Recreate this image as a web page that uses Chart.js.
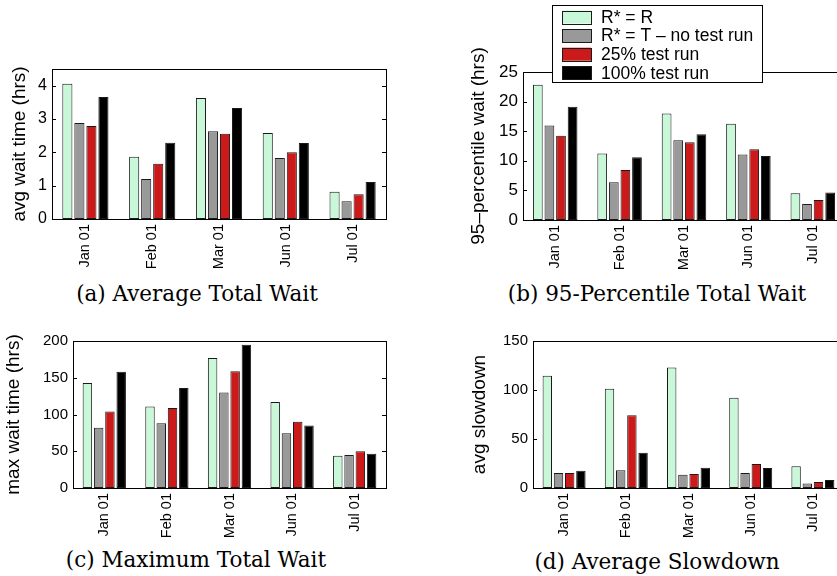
<!DOCTYPE html>
<html>
<head>
<meta charset="utf-8">
<title>Wait time comparison</title>
<script src="https://cdn.jsdelivr.net/npm/chart.js@4.4.1/dist/chart.umd.min.js"></script>
<style>
    html, body { margin: 0; padding: 0; background: #fff; width: 837px; height: 576px; overflow: hidden; }
    canvas { position: absolute; }
    .caption {
        position: absolute;
        font-family: "DejaVu Serif", serif;
        font-size: 21.5px;
        line-height: 24px;
        color: #000;
        white-space: nowrap;
        transform: translateX(-50%);
    }
</style>
</head>
<body>
<canvas id="chartA" width="390" height="280" style="left:0;top:0"></canvas>
<canvas id="chartB" width="405" height="280" style="left:440px;top:0"></canvas>
<canvas id="chartC" width="390" height="230" style="left:0;top:310px"></canvas>
<canvas id="chartD" width="404" height="230" style="left:440px;top:310px"></canvas>
<div class="caption" style="left:197px;top:282px">(a) Average Total Wait</div>
<div class="caption" style="left:657px;top:282px">(b) 95-Percentile Total Wait</div>
<div class="caption" style="left:196px;top:548px">(c) Maximum Total Wait</div>
<div class="caption" style="left:657px;top:550px">(d) Average Slowdown</div>
<script>
// categories and series names
const months = ['Jan 01', 'Feb 01', 'Mar 01', 'Jun 01', 'Jul 01'];
const seriesLabels = ['R* = R', 'R* = T \u2013 no test run', '25% test run', '100% test run'];

// (a) average wait time (hrs)
const avgWaitRR = [4.06, 1.87, 3.63, 2.58, 0.82];
const avgWaitRT = [2.88, 1.20, 2.63, 1.83, 0.53];
const avgWait25 = [2.79, 1.66, 2.56, 2.00, 0.74];
const avgWait100 = [3.66, 2.29, 3.33, 2.28, 1.11];

// (b) 95-percentile wait (hrs)
const p95WaitRR = [22.85, 11.23, 18.0, 16.25, 4.51];
const p95WaitRT = [15.97, 6.38, 13.49, 11.06, 2.71];
const p95Wait25 = [14.22, 8.46, 13.15, 11.96, 3.39];
const p95Wait100 = [19.13, 10.61, 14.5, 10.83, 4.63];

// (c) max wait time (hrs)
const maxWaitRR = [143, 111, 177, 117, 44];
const maxWaitRT = [82, 88, 130, 74.5, 45];
const maxWait25 = [104, 109, 159, 90, 50];
const maxWait100 = [158, 136, 195, 85, 46.5];

// (d) avg slowdown
const slowdownRR = [114.5, 101.3, 122.9, 92.1, 22.3];
const slowdownRT = [15.2, 18, 13.5, 15.2, 4.7];
const slowdown25 = [15.2, 74.2, 14.2, 24.4, 6.1];
const slowdown100 = [17.6, 35.9, 20.7, 20.3, 8.1];

const barColors = ['#c8f8d8', '#999999', '#cc1a1a', '#000000'];
const barEdge = '#1a1a1a';

Chart.defaults.font.family = '"Liberation Sans", Arial, sans-serif';
Chart.defaults.color = '#000';

// box around the plot area with inward ticks (matlab style)
const frameBox = {
    id: 'frameBox',
    afterDatasetsDraw(chart) {
        const ctx = chart.ctx;
        const a = chart.chartArea;
        const y = chart.scales.y;
        ctx.save();
        ctx.strokeStyle = '#000';
        ctx.lineWidth = 1;
        ctx.strokeRect(a.left + 0.5, a.top + 0.5, a.right - a.left, a.bottom - a.top);
        ctx.beginPath();
        y.ticks.forEach(t => {
            const py = Math.round(y.getPixelForValue(t.value)) + 0.5;
            ctx.moveTo(a.left, py);
            ctx.lineTo(a.left + 4, py);
            ctx.moveTo(a.right - 4, py);
            ctx.lineTo(a.right, py);
        });
        ctx.stroke();
        ctx.restore();
    }
};

// boxed legend drawn over the top edge of plot (b)
const legendBox = {
    id: 'legendBox',
    afterDraw(chart) {
        const ctx = chart.ctx;
        ctx.save();
        ctx.fillStyle = '#fff';
        ctx.fillRect(112, 5, 210, 77);
        ctx.strokeStyle = '#000';
        ctx.lineWidth = 1;
        ctx.strokeRect(112.5, 5.5, 210, 77);
        ctx.font = '17.5px "Liberation Sans", Arial, sans-serif';
        ctx.textBaseline = 'middle';
        chart.data.datasets.forEach((ds, i) => {
            const rowY = 17 + i * 18.6;
            ctx.fillStyle = ds.backgroundColor;
            ctx.fillRect(122, rowY - 6.5, 29, 13);
            ctx.strokeStyle = barEdge;
            ctx.strokeRect(122.5, Math.round(rowY - 6.5) + 0.5, 29, 13);
            ctx.fillStyle = '#000';
            ctx.fillText(ds.label, 161, rowY + 1);
        });
        ctx.restore();
    }
};

function makeBarChart(canvasId, cfg) {
    return new Chart(document.getElementById(canvasId), {
        type: 'bar',
        data: {
            labels: months,
            datasets: cfg.series.map((values, i) => ({
                label: seriesLabels[i],
                data: values,
                backgroundColor: barColors[i],
                borderColor: barEdge,
                borderWidth: 1,
                borderSkipped: false,
                categoryPercentage: 0.72,
                barPercentage: 0.84
            }))
        },
        options: {
            responsive: false,
            animation: false,
            layout: { padding: { top: cfg.padTop, right: cfg.padRight, left: 0, bottom: 0 } },
            plugins: {
                legend: { display: false },
                tooltip: { enabled: false }
            },
            scales: {
                x: {
                    grid: { display: false, drawTicks: false },
                    border: { display: false },
                    ticks: {
                        autoSkip: false,
                        minRotation: 90,
                        maxRotation: 90,
                        padding: 5,
                        font: { size: 14.5 }
                    },
                    afterFit: s => { s.height = cfg.xHeight; }
                },
                y: {
                    min: 0,
                    max: cfg.yMax,
                    grid: { display: false, drawTicks: false },
                    border: { display: false },
                    ticks: {
                        stepSize: cfg.yStep,
                        includeBounds: false,
                        padding: 5,
                        font: { size: cfg.tickSize }
                    },
                    title: {
                        display: true,
                        text: cfg.yTitle,
                        font: { size: 19 },
                        padding: { top: cfg.titlePad, bottom: 0 }
                    },
                    afterFit: s => { s.width = cfg.yWidth; }
                }
            }
        },
        plugins: cfg.legend ? [frameBox, legendBox] : [frameBox]
    });
}

makeBarChart('chartA', {
    series: [avgWaitRR, avgWaitRT, avgWait25, avgWait100],
    yMax: 4.5, yStep: 1, yTitle: 'avg wait time (hrs)',
    padTop: 69, padRight: 4, yWidth: 52, xHeight: 61, titlePad: 8.6, tickSize: 16
});

makeBarChart('chartB', {
    series: [p95WaitRR, p95WaitRT, p95Wait25, p95Wait100],
    yMax: 25, yStep: 5, yTitle: '95\u2013percentile wait (hrs)',
    padTop: 72, padRight: 0, yWidth: 83, xHeight: 60, titlePad: 27.6, tickSize: 17,
    legend: true
});

makeBarChart('chartC', {
    series: [maxWaitRR, maxWaitRT, maxWait25, maxWait100],
    yMax: 200, yStep: 50, yTitle: 'max wait time (hrs)',
    padTop: 31, padRight: 4, yWidth: 73, xHeight: 52, titlePad: 2.6, tickSize: 15
});

makeBarChart('chartD', {
    series: [slowdownRR, slowdownRT, slowdown25, slowdown100],
    yMax: 150, yStep: 50, yTitle: 'avg slowdown',
    padTop: 31, padRight: 0, yWidth: 93, xHeight: 52, titlePad: 28.6, tickSize: 15
});
</script>
</body>
</html>
